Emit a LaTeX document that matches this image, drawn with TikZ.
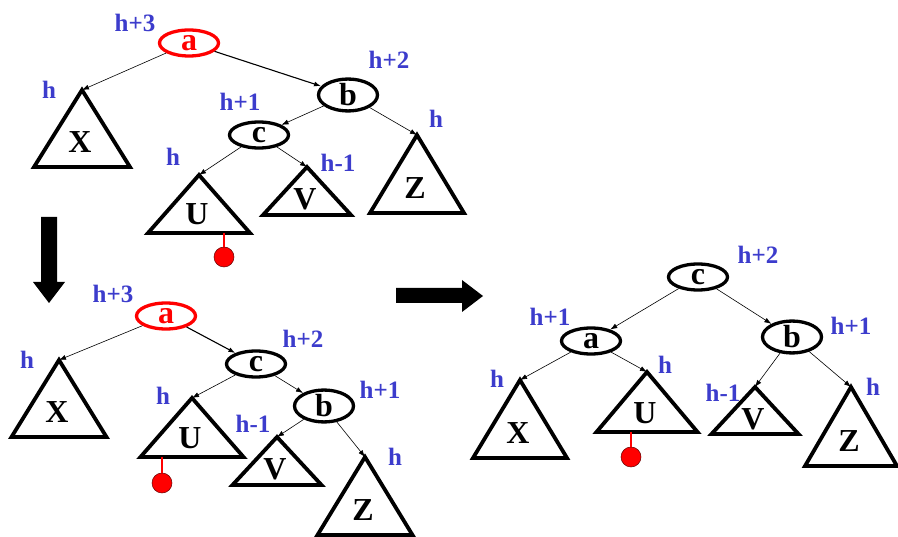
\documentclass[tikz,border=0pt]{standalone}
\usepackage{fontspec}
\setmainfont{Liberation Serif}
\usetikzlibrary{shapes.geometric,arrows.meta,calc}
\definecolor{HeightBlue}{HTML}{3C3CCC}
\definecolor{MarkRed}{HTML}{FF0000}

% subtree triangle: name, apex x, apex y, half width, height, label
\newcommand{\subtri}[6]{%
  \coordinate (#1) at (#2,#3);
  \draw[tri] (#1) -- ++(-#4,#5) -- ++(2*#4,0) -- cycle;
  \node[letter] (#1-l) at ($(#1)+(-2,0.68*#5)$) {#6};
}

\begin{document}
\begin{tikzpicture}[x=1pt, y=-1pt]
  \tikzstyle{knot}=[ellipse, draw, line width=3.3pt, minimum width=59pt, minimum height=26pt,
  inner sep=0pt, font=\fontsize{32}{32}\selectfont\bfseries]
  \tikzstyle{letter}=[inner sep=0pt, font=\fontsize{32}{32}\selectfont\bfseries]
  \tikzstyle{hgt}=[inner sep=0pt, text=HeightBlue, font=\fontsize{25}{25}\selectfont\bfseries]
  \tikzstyle{tri}=[line width=3.8pt, line join=miter]
  \tikzstyle{edge}=[-{Latex[length=7pt,width=5pt]}, line width=0.6pt]
  \tikzstyle{dot}=[circle, fill=MarkRed, draw=black!60!MarkRed, line width=0.5pt,
  minimum size=20pt, inner sep=0pt]
  \tikzstyle{stem}=[draw=MarkRed, line width=2pt]
  \useasboundingbox (0,0) rectangle (898,537);

  % tree before the insertion
  \node[knot, draw=MarkRed, text=MarkRed] (a1) at (189,43) {a};
  \node[knot] (b1) at (348,95) {b};
  \node[knot] (c1) at (259,135) {c};
  \subtri{X1}{82}{90}{48}{77}{X}
  \subtri{U1}{199}{175}{51}{58}{U}
  \subtri{V1}{307}{167}{44}{48}{V}
  \subtri{Z1}{417}{135}{47}{78}{Z}
  \node[hgt] (ha1) at (135,23) {h+3};
  \node[hgt] (hb1) at (389,60) {h+2};
  \node[hgt] (hc1) at (240,102) {h+1};
  \node[hgt] (hx1) at (49,90) {h};
  \node[hgt] (hu1) at (173,157) {h};
  \node[hgt] (hv1) at (338,163) {h-1};
  \node[hgt] (hz1) at (436,119) {h};
  \draw[edge] (a1) -- (X1);
  \draw[edge, line width=1.1pt] (a1) -- (b1);
  \draw[edge] (b1) -- (c1);
  \draw[edge] (b1) -- (Z1);
  \draw[edge] (c1) -- (U1);
  \draw[edge] (c1) -- (V1);
  \coordinate (s1) at (224,233);
  \node[dot] (d1) at (224,257) {};
  \draw[stem] (s1) -- (d1);

  % after the first rotation
  \node[knot, draw=MarkRed, text=MarkRed] (a2) at (166,316) {a};
  \node[knot] (c2) at (256,364) {c};
  \node[knot] (b2) at (324,406) {b};
  \subtri{X2}{59}{360}{47.5}{77}{X}
  \subtri{U2}{192}{398}{51.5}{59}{U}
  \subtri{V2}{277}{437}{44.5}{48}{V}
  \subtri{Z2}{365}{457}{47.5}{78}{Z}
  \node[hgt] (ha2) at (113,294) {h+3};
  \node[hgt] (hc2) at (303,339) {h+2};
  \node[hgt] (hb2) at (380,390) {h+1};
  \node[hgt] (hx2) at (27,360) {h};
  \node[hgt] (hu2) at (163,396) {h};
  \node[hgt] (hv2) at (253,424) {h-1};
  \node[hgt] (hz2) at (395,457) {h};
  \draw[edge] (a2) -- (X2);
  \draw[edge, line width=1.1pt] (a2) -- (c2);
  \draw[edge] (c2) -- (U2);
  \draw[edge] (c2) -- (b2);
  \draw[edge] (b2) -- (V2);
  \draw[edge] (b2) -- (Z2);
  \coordinate (s2) at (162,457);
  \node[dot] (d2) at (162,483) {};
  \draw[stem] (s2) -- (d2);

  % balanced result
  \node[knot] (c3) at (698,277) {c};
  \node[knot] (a3) at (591,341) {a};
  \node[knot] (b3) at (792,337) {b};
  \subtri{X3}{520}{380}{47}{78}{X}
  \subtri{U3}{647}{372}{50.5}{60}{U}
  \subtri{V3}{755}{387}{43.5}{47}{V}
  \subtri{Z3}{851}{387}{46}{79}{Z}
  \node[hgt] (hc3) at (758,255) {h+2};
  \node[hgt] (ha3) at (550,317) {h+1};
  \node[hgt] (hb3) at (851,326) {h+1};
  \node[hgt] (hx3) at (497,379) {h};
  \node[hgt] (hu3) at (665,365) {h};
  \node[hgt] (hv3) at (723,393) {h-1};
  \node[hgt] (hz3) at (873,387) {h};
  \draw[edge] (c3) -- (a3);
  \draw[edge] (c3) -- (b3);
  \draw[edge] (a3) -- (X3);
  \draw[edge] (a3) -- (U3);
  \draw[edge] (b3) -- (V3);
  \draw[edge] (b3) -- (Z3);
  \coordinate (s3) at (631,432);
  \node[dot] (d3) at (631,457) {};
  \draw[stem] (s3) -- (d3);

  % big step arrows
  \fill (41,217) -- (57,217) -- (57,282) -- (65,282) -- (49,303) -- (33,282) -- (41,282) -- cycle;
  \fill (396,288) -- (462,288) -- (462,280) -- (483,296) -- (462,312) -- (462,303) -- (396,303) -- cycle;
\end{tikzpicture}
\end{document}
